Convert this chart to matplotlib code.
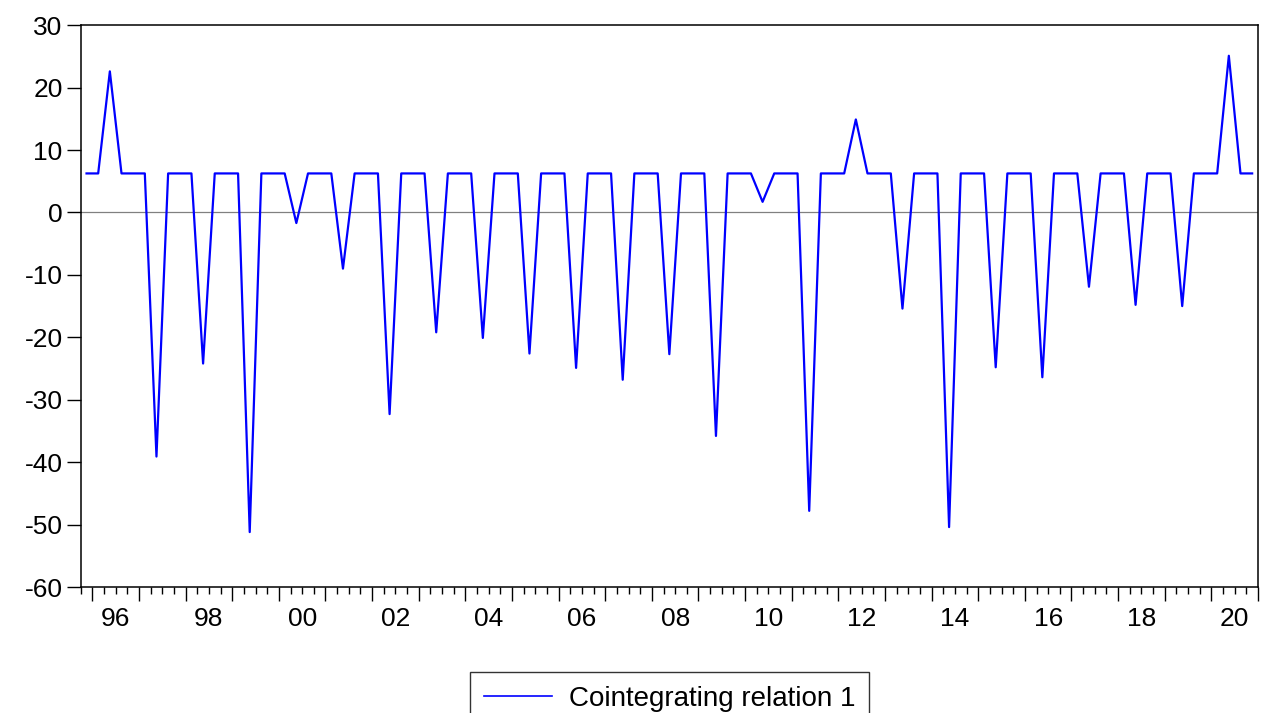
#!/usr/bin/env python3
import matplotlib
matplotlib.use("Agg")
import matplotlib.pyplot as plt
import matplotlib.transforms as mtransforms
import numpy as np

# quarterly series, 1995Q4 .. 2020Q4
# every quarter sits on the flat level except Q2, which carries the jump
start_year = 1995
start_quarter = 4
n_obs = 101
base_level = 6.25
q2_years = list(range(1996, 2021))
q2_values = [22.6, -39.1, -24.2, -51.2, -1.7, -9.0, -32.3, -19.2, -20.1,
             -22.6, -24.9, -26.8, -22.7, -35.8, 1.7, -47.8, 14.9, -15.4,
             -50.4, -24.8, -26.4, -11.9, -14.8, -15.0, 25.1]
year_labels = ["96", "98", "00", "02", "04", "06", "08", "10", "12",
               "14", "16", "18", "20"]
label_years = list(range(1996, 2021, 2))

plt.rcParams['font.family'] = ['Liberation Sans', 'DejaVu Sans']
plt.rcParams['axes.unicode_minus'] = False
FS = 19

# build the series
years = []
quarters = []
y, q = start_year, start_quarter
for i in range(n_obs):
    years.append(y)
    quarters.append(q)
    q += 1
    if q > 4:
        q = 1
        y += 1
values = []
for y, q in zip(years, quarters):
    if q == 2:
        values.append(q2_values[q2_years.index(y)])
    else:
        values.append(base_level)
# plot each quarter at the middle of its period
t = np.array(years) + (np.array(quarters) - 1) * 0.25 + 0.125

fig = plt.figure(figsize=(12.61, 7.13), dpi=100)
ax = fig.add_axes([0.064, 0.1767, 0.9336, 0.788])

ax.axhline(0, color="#808080", lw=0.9, zorder=1)
ax.plot(t, values, color="#0000ff", lw=1.6, label="Cointegrating relation 1", zorder=2)

ax.set_xlim(start_year + (start_quarter - 1) * 0.25, 2021.0)
ax.set_ylim(-60, 30)
ax.set_yticks(range(-60, 31, 10))
ax.tick_params(axis="y", direction="out", length=10, width=1, labelsize=FS, pad=3)

ax.set_xticks(range(1996, 2022))
ax.set_xticklabels([])
ax.set_xticks(np.arange(1995.75, 2021.01, 0.25), minor=True)
ax.tick_params(axis="x", which="major", direction="out", length=10, width=1)
ax.tick_params(axis="x", which="minor", direction="out", length=5, width=1)

trans = mtransforms.blended_transform_factory(ax.transData, ax.transAxes)
for yr, lab in zip(label_years, year_labels):
    ax.text(yr + 0.5, -0.057, lab, transform=trans, ha="center", va="center", fontsize=FS)

for s in ax.spines.values():
    s.set_linewidth(1.1)
    s.set_color("black")

leg = fig.legend(loc="upper center", bbox_to_anchor=(0.531, 1 - 672 / 713),
                 fontsize=FS + 1, frameon=True, fancybox=False, shadow=False,
                 handlelength=2.45, handletextpad=0.6, borderpad=0.5,
                 borderaxespad=0)
leg.get_frame().set_edgecolor("black")
leg.get_frame().set_linewidth(1.0)
for line in leg.get_lines():
    line.set_linewidth(1.2)

fig.savefig("out.png", dpi=100)
plt.close(fig)
